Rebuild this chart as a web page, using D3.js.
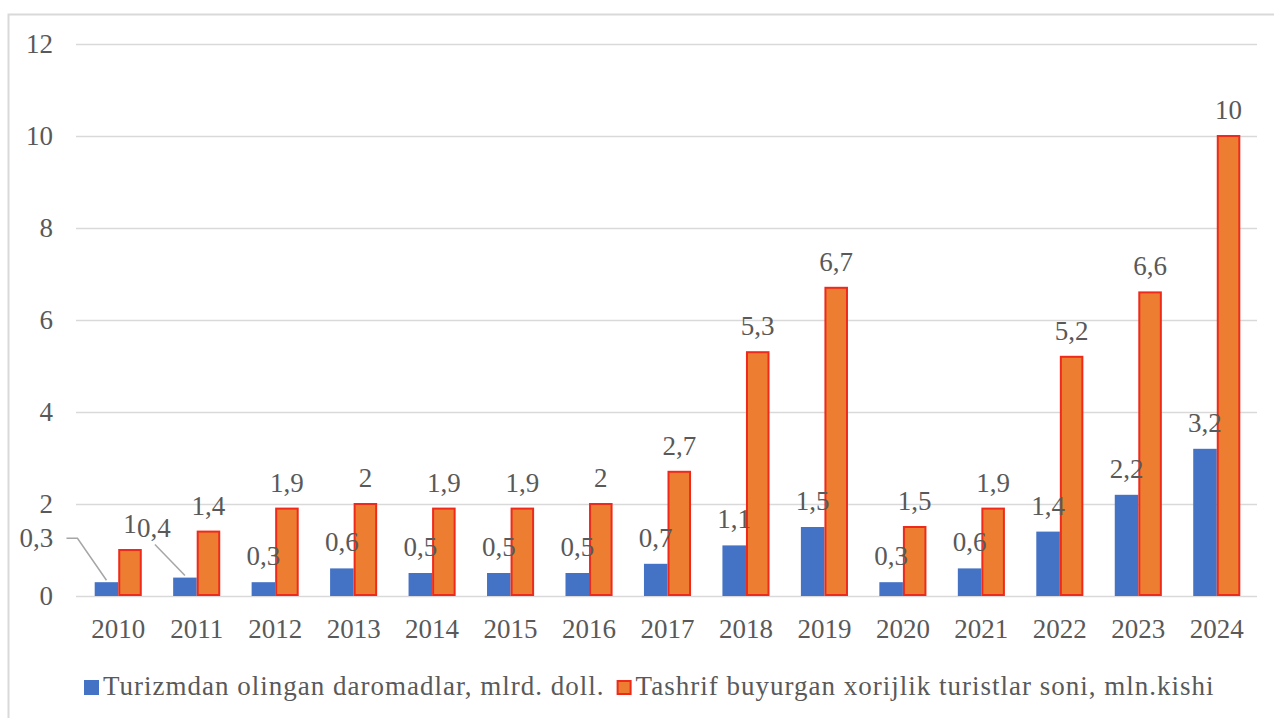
<!DOCTYPE html>
<html>
<head>
<meta charset="utf-8">
<script src="https://cdn.jsdelivr.net/npm/d3@7"></script>
<style>
  body { margin: 0; background: #fff; }
</style>
</head>
<body>
<div id="chart"></div>
<script>
// data
const years = ["2010", "2011", "2012", "2013", "2014", "2015", "2016", "2017", "2018", "2019", "2020", "2021", "2022", "2023", "2024"];
const income = [0.3, 0.4, 0.3, 0.6, 0.5, 0.5, 0.5, 0.7, 1.1, 1.5, 0.3, 0.6, 1.4, 2.2, 3.2];
const tourists = [1, 1.4, 1.9, 2, 1.9, 1.9, 2, 2.7, 5.3, 6.7, 1.5, 1.9, 5.2, 6.6, 10];
const seriesNames = ["Turizmdan olingan daromadlar, mlrd. doll.", "Tashrif buyurgan xorijlik turistlar soni, mln.kishi"];
const yTicks = [0, 2, 4, 6, 8, 10, 12];

const width = 1274, height = 718;
const blue = "#4472c4", orange = "#ed7d31", orangeEdge = "#ee2a1b";
const textColor = "#595959";
const serif = "'Liberation Serif', 'DejaVu Serif', serif";

const svg = d3.select("#chart").append("svg")
    .attr("width", width)
    .attr("height", height)
    .attr("font-family", serif);

// outer chart frame
svg.append("rect")
    .attr("x", 8.5).attr("y", 14.5)
    .attr("width", 1300).attr("height", 800)
    .attr("fill", "none")
    .attr("stroke", "#d9d9d9")
    .attr("stroke-width", 2);

const y = d3.scaleLinear().domain([0, 12]).range([596, 44]);
const x = d3.scaleBand().domain(years).range([79, 1256]).paddingInner(0.4).paddingOuter(0.2);
const xSub = d3.scaleBand().domain(["a", "b"]).range([0, x.bandwidth()]);

const fmt = d3.formatLocale({ decimal: ",", thousands: " ", grouping: [3], currency: ["", ""] }).format("~g");

// y axis with gridlines
const yAxis = svg.append("g")
    .attr("transform", "translate(76,0)")
    .call(d3.axisLeft(y).tickValues(yTicks).tickSize(-(1257 - 76)).tickPadding(23))
    .attr("font-family", serif)
    .attr("font-size", "27px");
yAxis.select(".domain").remove();
yAxis.selectAll("line").attr("stroke", "#d9d9d9").attr("stroke-width", 1.5);
yAxis.selectAll("text").attr("fill", textColor);

// x axis
const xAxis = svg.append("g")
    .attr("transform", "translate(0,596)")
    .call(d3.axisBottom(x).tickSize(0).tickPadding(23))
    .attr("font-family", serif)
    .attr("font-size", "27px");
xAxis.select(".domain").remove();
xAxis.selectAll("text").attr("fill", textColor);

// bars
const rows = years.map((yr, i) => ({ year: yr, a: income[i], b: tourists[i] }));

svg.append("g").selectAll("rect")
    .data(rows)
    .enter()
    .append("rect")
    .attr("x", d => x(d.year) + xSub("a"))
    .attr("y", d => y(d.a))
    .attr("width", xSub.bandwidth())
    .attr("height", d => y(0) - y(d.a))
    .attr("fill", blue);

svg.append("g").selectAll("rect")
    .data(rows)
    .enter()
    .append("rect")
    .attr("x", d => x(d.year) + xSub("b") + 1)
    .attr("y", d => y(d.b))
    .attr("width", xSub.bandwidth() - 2)
    .attr("height", d => y(0) - y(d.b) - 1)
    .attr("fill", orange)
    .attr("stroke", orangeEdge)
    .attr("stroke-width", 2);

// two blue labels sit off their bars in the original, with leader lines
const moved = {
  "2010": { dx: -70, dy: -35, leader: [[0, -2], [-29, -44], [-40, -44]] },
  "2011": { dx: -31, dy: -41, leader: [[0, -2], [-30, -33]] }
};

const labels = svg.append("g").attr("font-size", "27px").attr("fill", textColor);
rows.forEach(d => {
  const cx = x(d.year) + xSub("a") + xSub.bandwidth() / 2;
  const top = y(d.a);
  const m = moved[d.year];
  if (m) {
    labels.append("path")
        .attr("d", d3.line()(m.leader.map(p => [cx + p[0], top + p[1]])))
        .attr("fill", "none")
        .attr("stroke", "#a6a6a6")
        .attr("stroke-width", 1.5);
  }
  labels.append("text")
      .attr("x", cx + (m ? m.dx : 0))
      .attr("y", top + (m ? m.dy : -17))
      .attr("text-anchor", "middle")
      .text(fmt(d.a));
});

labels.selectAll(".lab-b")
    .data(rows)
    .enter()
    .append("text")
    .attr("class", "lab-b")
    .attr("x", d => x(d.year) + xSub("b") + xSub.bandwidth() / 2)
    .attr("y", d => y(d.b) - 17)
    .attr("text-anchor", "middle")
    .text(d => fmt(d.b));

// legend
const legend = svg.append("g").attr("font-size", "27px").attr("fill", textColor);
let lx = 84;
[blue, orange].forEach((c, i) => {
  legend.append("rect")
      .attr("x", lx + (i ? 1 : 0)).attr("y", 680 + (i ? 1 : 0))
      .attr("width", i ? 13 : 15).attr("height", i ? 13 : 15)
      .attr("fill", c)
      .attr("stroke", i ? orangeEdge : "none")
      .attr("stroke-width", 2);
  const t = legend.append("text")
      .attr("x", lx + 19)
      .attr("y", 695)
      .attr("letter-spacing", "1px")
      .text(seriesNames[i]);
  lx = lx + 19 + t.node().getComputedTextLength() + 12;
});
</script>
</body>
</html>
